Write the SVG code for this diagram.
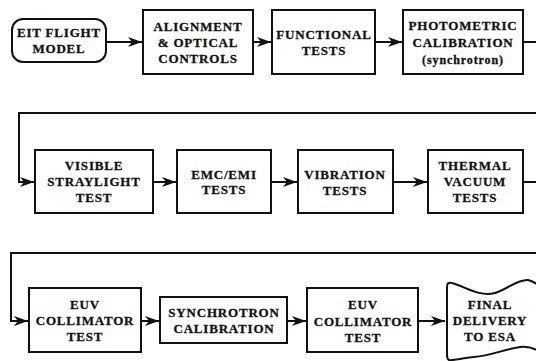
<svg xmlns="http://www.w3.org/2000/svg" width="536" height="361" viewBox="0 0 536 361">
<style>
.box{fill:#fff;stroke:#111;stroke-width:2}
.t{font-family:"Liberation Serif","Times New Roman",serif;font-weight:bold;font-size:13px;letter-spacing:0.8px;text-anchor:middle;fill:#111;stroke:#111;stroke-width:0.3}
.s{font-size:12px;letter-spacing:0.9px}
.c{fill:none;stroke:#111;stroke-width:2}
</style>
<defs>
<marker id="ah" markerUnits="userSpaceOnUse" markerWidth="18" markerHeight="14" refX="15" refY="6" orient="auto" viewBox="0 0 18 14">
<path d="M15,6 L1,1 L5,6 L1,11 Z" fill="#111"/>
</marker>
</defs>
<g id="connectors">
<path class="c" d="M106,42 H142" marker-end="url(#ah)"/>
<path class="c" d="M253,42 H271" marker-end="url(#ah)"/>
<path class="c" d="M375,42 H402" marker-end="url(#ah)"/>
<path class="c" d="M523,42 H537"/>
<path class="c" d="M537,113 H19 V182 H34" marker-end="url(#ah)"/>
<path class="c" d="M153,182 H176" marker-end="url(#ah)"/>
<path class="c" d="M271,182 H297" marker-end="url(#ah)"/>
<path class="c" d="M393,182 H427" marker-end="url(#ah)"/>
<path class="c" d="M523,182 H537"/>
<path class="c" d="M537,253 H11 V321 H28" marker-end="url(#ah)"/>
<path class="c" d="M141,321 H159" marker-end="url(#ah)"/>
<path class="c" d="M287,321 H306" marker-end="url(#ah)"/>
<path class="c" d="M418,321 H445" marker-end="url(#ah)"/>
</g>
<g id="eit">
<rect class="box" x="12" y="19" width="94" height="43" rx="11"/>
<text class="t" x="59" y="37">EIT FLIGHT</text>
<text class="t" x="59" y="53">MODEL</text>
</g>
<g id="alignment">
<rect class="box" x="143" y="10" width="110" height="64"/>
<text class="t" x="198" y="31">ALIGNMENT</text>
<text class="t" x="198" y="47">&amp; OPTICAL</text>
<text class="t" x="198" y="63">CONTROLS</text>
</g>
<g id="functional">
<rect class="box" x="272" y="10" width="103" height="64"/>
<text class="t" x="324" y="39">FUNCTIONAL</text>
<text class="t" x="324" y="55">TESTS</text>
</g>
<g id="photometric">
<rect class="box" x="403" y="10" width="120" height="64"/>
<text class="t" x="463" y="30">PHOTOMETRIC</text>
<text class="t" x="463" y="47">CALIBRATION</text>
<text class="t s" x="463" y="64">(synchrotron)</text>
</g>
<g id="visible">
<rect class="box" x="35" y="150" width="118" height="63"/>
<text class="t" x="94" y="170">VISIBLE</text>
<text class="t" x="94" y="186">STRAYLIGHT</text>
<text class="t" x="94" y="202">TEST</text>
</g>
<g id="emc">
<rect class="box" x="177" y="150" width="94" height="63"/>
<text class="t" x="224" y="179">EMC/EMI</text>
<text class="t" x="224" y="194">TESTS</text>
</g>
<g id="vibration">
<rect class="box" x="298" y="150" width="95" height="63"/>
<text class="t" x="345" y="179">VIBRATION</text>
<text class="t" x="345" y="195">TESTS</text>
</g>
<g id="thermal">
<rect class="box" x="428" y="150" width="95" height="63"/>
<text class="t" x="475" y="170">THERMAL</text>
<text class="t" x="475" y="186">VACUUM</text>
<text class="t" x="475" y="202">TESTS</text>
</g>
<g id="euv1">
<rect class="box" x="29" y="288" width="112" height="64"/>
<text class="t" x="85" y="309">EUV</text>
<text class="t" x="85" y="325">COLLIMATOR</text>
<text class="t" x="85" y="341">TEST</text>
</g>
<g id="synchrotron">
<rect class="box" x="160" y="297" width="127" height="46"/>
<text class="t" x="224" y="317">SYNCHROTRON</text>
<text class="t" x="224" y="333">CALIBRATION</text>
</g>
<g id="euv2">
<rect class="box" x="307" y="288" width="111" height="64"/>
<text class="t" x="363" y="309">EUV</text>
<text class="t" x="363" y="326">COLLIMATOR</text>
<text class="t" x="363" y="342">TEST</text>
</g>
<g id="final">
<path class="box" d="M447,287 C447,283 449,282 452,283 C466,287 479,297 495,293 C508,289 518,279 528,280 C533,281 537,284 540,287 L540,352 C534,348 528,346 520,347 C505,349 490,356 474,357 C462,358 453,361 449,360 C447,359 447,357 447,355 Z"/>
<text class="t" x="490" y="309">FINAL</text>
<text class="t" x="490" y="325">DELIVERY</text>
<text class="t" x="490" y="341">TO ESA</text>
</g>
</svg>
